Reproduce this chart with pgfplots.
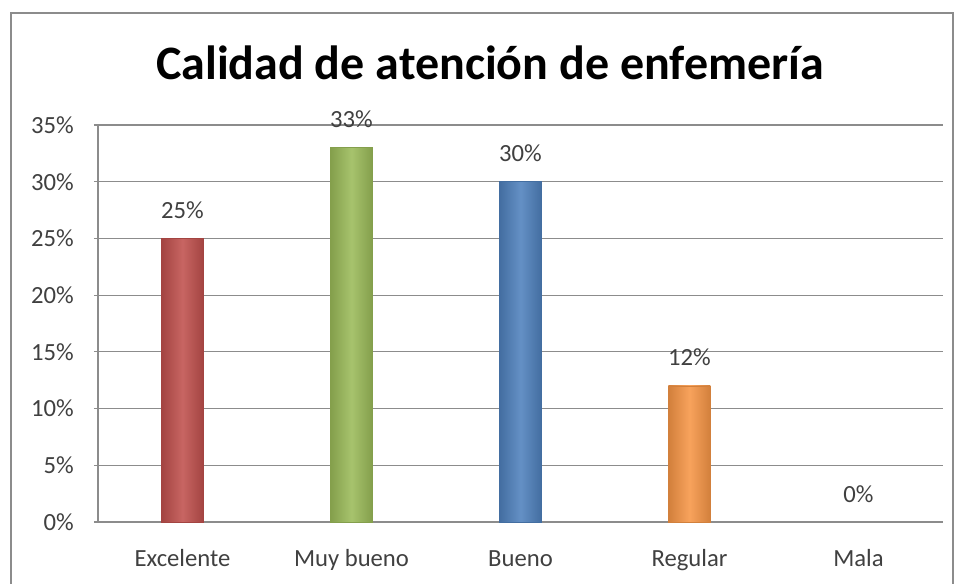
\documentclass[border=0pt]{standalone}
\usepackage{pgfplots}
\pgfplotsset{compat=1.18}
\usepackage{fontspec}
\setmainfont{Carlito}
\definecolor{cred}{HTML}{C0504D}
\definecolor{cgreen}{HTML}{9BBB59}
\definecolor{cblue}{HTML}{4F81BD}
\definecolor{corange}{HTML}{F79646}
\definecolor{txt}{HTML}{404040}
\definecolor{gridc}{HTML}{8C8C8C}
\begin{document}
\begin{tikzpicture}
\path[use as bounding box] (0pt,0pt) rectangle (718.5pt,437.25pt);
\draw[gridc, line width=1.3pt] (8.25pt,-5pt) rectangle (714.75pt,427.5pt);
\node[font=\fontsize{36}{43}\selectfont\bfseries, anchor=base, text=black] at (367.5pt,377.25pt) {Calidad de atención de enfemería};
\begin{axis}[
  at={(73.5pt,45.75pt)}, anchor=south west,
  scale only axis, width=633.75pt, height=297.75pt,
  xmin=-0.5, xmax=4.5, ymin=0, ymax=35,
  ytick={0,5,...,35}, xtick={0,...,4},
  xticklabels={Excelente, Muy bueno, Bueno, Regular, Mala},
  ymajorgrids, grid style={gridc, line width=0.9pt},
  axis x line*=bottom, axis y line*=left,
  axis line style={gridc, line width=0.9pt, -},
  xtick style={draw=none},
  ytick style={gridc, line width=0.9pt},
  tick align=outside, major tick length=3pt,
  /pgf/number format/assume math mode=true,
  yticklabel={\pgfmathprintnumber{\tick}\%},
  ticklabel style={font=\fontsize{18.5}{22}\selectfont, text=txt},
  yticklabel style={anchor=east, inner sep=0pt, xshift=-15pt},
  xticklabel style={anchor=base, inner sep=0pt, yshift=-30.5pt},
  ybar, bar width=31.5pt, bar shift=0pt,
  nodes near coords={\pgfmathprintnumber{\pgfplotspointmeta}\%},
  nodes near coords style={font=\fontsize{18.5}{22}\selectfont, text=txt, anchor=base, inner sep=0pt, yshift=15pt},
]
\addplot[draw=cred!85!black, line width=0.4pt, left color=cred!85!black, right color=cred!85!black, middle color=cred!88!white] coordinates {(0,25)};
\addplot[draw=cgreen!85!black, line width=0.4pt, left color=cgreen!85!black, right color=cgreen!85!black, middle color=cgreen!88!white] coordinates {(1,33)};
\addplot[draw=cblue!85!black, line width=0.4pt, left color=cblue!85!black, right color=cblue!85!black, middle color=cblue!88!white] coordinates {(2,30)};
\addplot[draw=corange!85!black, line width=0.4pt, left color=corange!85!black, right color=corange!85!black, middle color=corange!88!white] coordinates {(3,12)};
\addplot[draw=none, fill=none] coordinates {(4,0)};
\end{axis}
\end{tikzpicture}
\end{document}
